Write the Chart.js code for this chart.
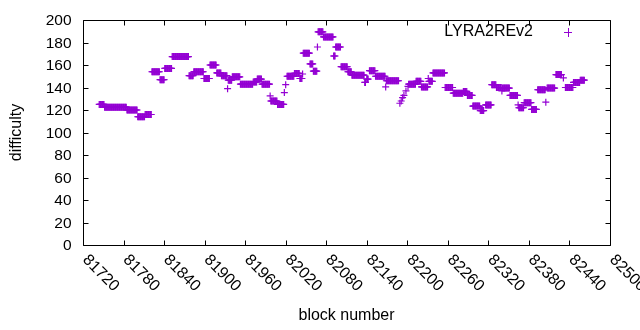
<!DOCTYPE html>
<html>
<head>
<meta charset="utf-8">
<script src="https://cdn.jsdelivr.net/npm/chart.js@4/dist/chart.umd.min.js"></script>
<style>
  html, body { margin: 0; padding: 0; background: #fff; }
</style>
</head>
<body>
<canvas id="diffChart" width="640" height="330"></canvas>
<script>
// ======================================
// Data (runs of blocks with the same difficulty)
// ======================================

const runStart = [
  81744, 81752, 81785, 81801, 81812, 81822, 81834, 81841, 81852, 81877,
  81884, 81899, 81908, 81918, 81925, 81934, 81935, 81941, 81953, 81972,
  81978, 81985, 81997, 81998, 82008, 82018, 82020, 82022, 82033, 82041,
  82045, 82046, 82056, 82061, 82067, 82068, 82076, 82091, 82094, 82102,
  82112, 82118, 82137, 82140, 82144, 82153, 82168, 82169, 82189, 82191,
  82193, 82195, 82198, 82201, 82202, 82213, 82221, 82231, 82232, 82238,
  82256, 82268, 82283, 82289, 82297, 82308, 82316, 82325, 82332, 82340,
  82341, 82352, 82364, 82365, 82373, 82384, 82393, 82405, 82407, 82420,
  82431, 82434, 82446, 82456,
];

const runEnd = [
  81751, 81784, 81800, 81811, 81821, 81833, 81840, 81851, 81876, 81883,
  81898, 81907, 81917, 81924, 81933, 81934, 81940, 81952, 81971, 81977,
  81984, 81996, 81997, 82007, 82017, 82018, 82020, 82032, 82040, 82044,
  82045, 82055, 82060, 82066, 82067, 82075, 82090, 82093, 82101, 82111,
  82117, 82136, 82138, 82142, 82152, 82167, 82168, 82187, 82189, 82191,
  82193, 82195, 82198, 82201, 82212, 82220, 82230, 82231, 82237, 82255,
  82267, 82282, 82288, 82296, 82307, 82313, 82324, 82331, 82339, 82340,
  82351, 82363, 82364, 82372, 82383, 82391, 82404, 82405, 82418, 82428,
  82431, 82445, 82455, 82462,
];

const runDifficulty = [
  125, 122.5, 120, 114, 116, 154, 147, 157, 167.5, 150.5,
  154, 148, 160, 153, 150.5, 139, 146.5, 149.5, 143, 145,
  147.5, 143, 132.5, 128, 125, 135.5, 142.5, 150, 152.5, 148,
  152, 170.5, 161, 154.5, 176, 189.5, 185, 168, 176, 158.5,
  154, 151, 144.5, 147.5, 155, 150, 140.5, 146, 126, 128,
  131, 133, 137, 141, 143, 145.5, 140.5, 148, 145.5, 153,
  140, 135, 136.5, 133, 123.5, 119.5, 124.5, 142.5, 140, 137,
  139.5, 133, 124.5, 122, 126.5, 120.5, 138, 127, 139.5, 151.5,
  148.5, 140, 144.5, 146.5,
];

const xTicks = [81720, 81780, 81840, 81900, 81960, 82020, 82080, 82140, 82200, 82260, 82320, 82380, 82440, 82500];
const yTicks = [0, 20, 40, 60, 80, 100, 120, 140, 160, 180, 200];

const seriesLabel = "LYRA2REv2";
const xTitle = "block number";
const yTitle = "difficulty";

const COLOR = "#9400d3";
const FONT = "16px 'Liberation Sans', Arial, sans-serif";
const TICK_FONT = "15.5px 'Liberation Sans', Arial, sans-serif";

// one point per block inside each run
const points = [];
runStart.forEach((start, i) => {
  for (let b = start; b <= runEnd[i]; b++) {
    points.push({ x: b, y: runDifficulty[i] });
  }
});

// ======================================
// Frame, ticks, labels, key
// ======================================

const gnuFrame = {
  id: "gnuFrame",

  afterDraw(chart) {
    const { ctx, chartArea: a } = chart;
    const xs = chart.scales.x;
    const ys = chart.scales.y;
    const L = Math.round(a.left) + 0.5;
    const R = Math.round(a.right) + 0.5;
    const T = Math.round(a.top) + 0.5;
    const B = Math.round(a.bottom) + 0.5;
    const tick = 5;

    ctx.save();
    ctx.strokeStyle = "#000";
    ctx.lineWidth = 1;
    ctx.beginPath();
    ctx.rect(L, T, R - L, B - T);

    yTicks.forEach((v) => {
      const py = Math.round(ys.getPixelForValue(v)) + 0.5;
      ctx.moveTo(L, py); ctx.lineTo(L + tick, py);
      ctx.moveTo(R, py); ctx.lineTo(R - tick, py);
    });

    xTicks.forEach((v) => {
      const px = Math.round(xs.getPixelForValue(v)) + 0.5;
      ctx.moveTo(px, B); ctx.lineTo(px, B - tick);
      ctx.moveTo(px, T); ctx.lineTo(px, T + tick);
    });
    ctx.stroke();

    ctx.fillStyle = "#000";
    ctx.font = TICK_FONT;

    // y tick labels
    ctx.textAlign = "right";
    ctx.textBaseline = "middle";
    yTicks.forEach((v) => {
      ctx.fillText(String(v), L - 12, ys.getPixelForValue(v) + 1);
    });

    // x tick labels, rotated down to the right
    ctx.font = FONT;
    ctx.textAlign = "left";
    xTicks.forEach((v) => {
      const px = xs.getPixelForValue(v);
      ctx.save();
      ctx.translate(px + 2, B + 12);
      ctx.rotate(Math.PI / 4);
      ctx.fillText(String(v), 0, 0);
      ctx.restore();
    });

    // axis titles
    ctx.textAlign = "center";
    ctx.fillText(xTitle, (a.left + a.right) / 2, 316);
    ctx.save();
    ctx.translate(17, (a.top + a.bottom) / 2);
    ctx.rotate(-Math.PI / 2);
    ctx.fillText(yTitle, 0, 0);
    ctx.restore();

    // key
    ctx.textAlign = "right";
    ctx.fillText(seriesLabel, 533, 32);
    ctx.strokeStyle = COLOR;
    ctx.beginPath();
    ctx.moveTo(564, 32.5); ctx.lineTo(572, 32.5);
    ctx.moveTo(568.5, 28); ctx.lineTo(568.5, 37);
    ctx.stroke();

    ctx.restore();
  },
};

// ======================================
// Chart
// ======================================

new Chart(document.getElementById("diffChart"), {
  type: "scatter",

  data: {
    datasets: [
      {
        label: seriesLabel,
        data: points,
        pointStyle: "cross",
        pointRadius: 3.5,
        pointBorderWidth: 1.2,
        borderColor: COLOR,
        backgroundColor: COLOR,
        showLine: false,
      },
    ],
  },

  options: {
    responsive: false,
    animation: false,
    layout: { padding: { top: 20, right: 30, left: 0, bottom: 0 } },

    plugins: {
      legend: { display: false },
      tooltip: { enabled: false },
    },

    scales: {
      x: {
        type: "linear",
        min: 81720,
        max: 82500,
        afterBuildTicks: (s) => { s.ticks = xTicks.map((v) => ({ value: v })); },
        afterFit: (s) => { s.height = 85; },
        ticks: { display: false },
        grid: { display: false },
        border: { display: false },
      },
      y: {
        min: 0,
        max: 200,
        afterBuildTicks: (s) => { s.ticks = yTicks.map((v) => ({ value: v })); },
        afterFit: (s) => { s.width = 83; },
        ticks: { display: false },
        grid: { display: false },
        border: { display: false },
      },
    },
  },

  plugins: [gnuFrame],
});
</script>
</body>
</html>
